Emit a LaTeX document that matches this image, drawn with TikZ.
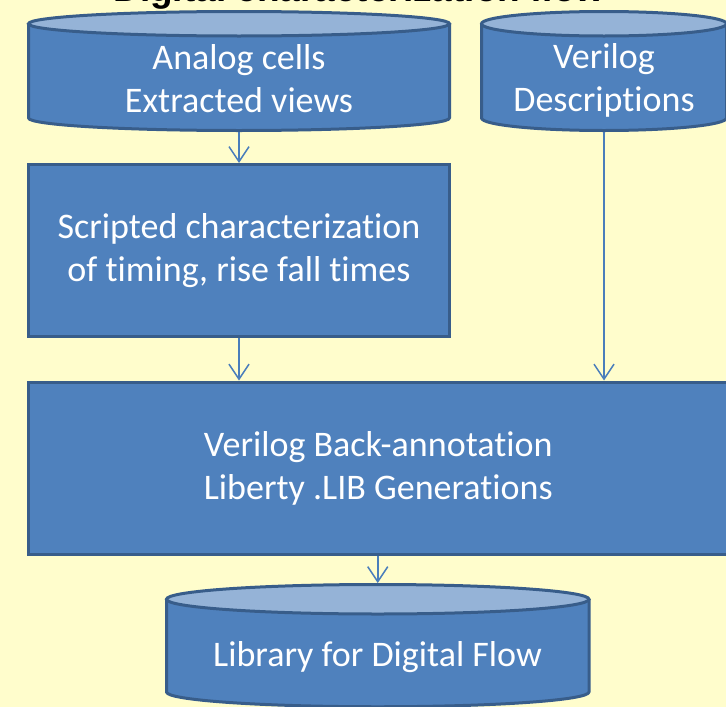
\documentclass[tikz,border=0pt]{standalone}
\usepackage{fontspec}
\setmainfont{Carlito}[Ligatures={NoCommon}]
\newfontfamily\titlefont{Liberation Sans}
\usetikzlibrary{arrows.meta}
\definecolor{bgyel}{HTML}{FFFDCC}
\definecolor{boxfill}{HTML}{4F81BD}
\definecolor{boxline}{HTML}{385D8A}
\definecolor{capfill}{HTML}{95B3D7}
\definecolor{linkcol}{HTML}{4A7EBB}
\begin{document}
\begin{tikzpicture}[x=1pt,y=-1pt,
  procbox/.style={draw=boxline,fill=boxfill,line width=3pt,inner sep=0pt,rectangle},
  txtw/.style={text=white,font=\fontsize{36}{43}\selectfont,align=center,inner sep=0pt},
  flowlink/.style={draw=linkcol,line width=1.5pt,-{Straight Barb[length=15pt,width=20pt,line width=1.5pt]}},
  cylbody/.style={fill=boxfill,draw=boxline,line width=3pt,line join=round},
  cyltop/.style={fill=capfill,draw=boxline,line width=3pt}]
\useasboundingbox (0,0) rectangle (726,707);
\fill[bgyel] (0,0) rectangle (726,707);

% title (cut off at the top)
\node[font=\titlefont\bfseries\fontsize{37}{44}\selectfont,anchor=base,inner sep=0pt] (title) at (359,1.5) {Digital characterization flow};

% cylinder 1
\filldraw[cylbody] (28.5,23.75) -- (28.5,118) arc[start angle=180,end angle=360,x radius=210.5pt,y radius=12.5pt] -- (449.5,23.75) -- cycle;
\draw[cyltop] (239,23.75) ellipse [x radius=210.5pt, y radius=12.25pt];
\node[txtw] (c1txt) at (239,78.5) {Analog cells\\Extracted views};
\coordinate (c1bot) at (239,132);

% cylinder 2
\filldraw[cylbody] (481.5,23.75) -- (481.5,118) arc[start angle=180,end angle=360,x radius=122.5pt,y radius=12.5pt] -- (726.5,23.75) -- cycle;
\draw[cyltop] (604,23.75) ellipse [x radius=122.5pt, y radius=12.25pt];
\node[txtw] (c2txt) at (604,80) {Verilog\\Descriptions};
\coordinate (c2bot) at (604,132);

% boxes
\node[procbox,txtw,minimum width=421pt,minimum height=171.5pt] (box1) at (239,250.25) {Scripted characterization\\of timing, rise fall times};
\node[procbox,txtw,minimum width=699.5pt,minimum height=172pt] (box2) at (378.25,468) {Verilog Back-annotation\\Liberty .LIB Generations};

% cylinder 3
\filldraw[cylbody] (166.5,599.25) -- (166.5,692) arc[start angle=180,end angle=360,x radius=211.25pt,y radius=14.75pt] -- (589,599.25) -- cycle;
\draw[cyltop] (377.75,599.25) ellipse [x radius=211.25pt, y radius=14.75pt];
\node[txtw,anchor=base] (c3txt) at (377.5,666) {Library for Digital Flow};
\coordinate (c3top) at (377.75,583);

% connectors
\draw[flowlink] (c1bot) -- (box1);
\draw[flowlink] (box1.south) -- (box1.south |- box2.north);
\draw[flowlink] (c2bot) -- (c2bot |- box2.north);
\draw[flowlink] (c3top |- box2.south) -- (c3top);
\end{tikzpicture}
\end{document}
